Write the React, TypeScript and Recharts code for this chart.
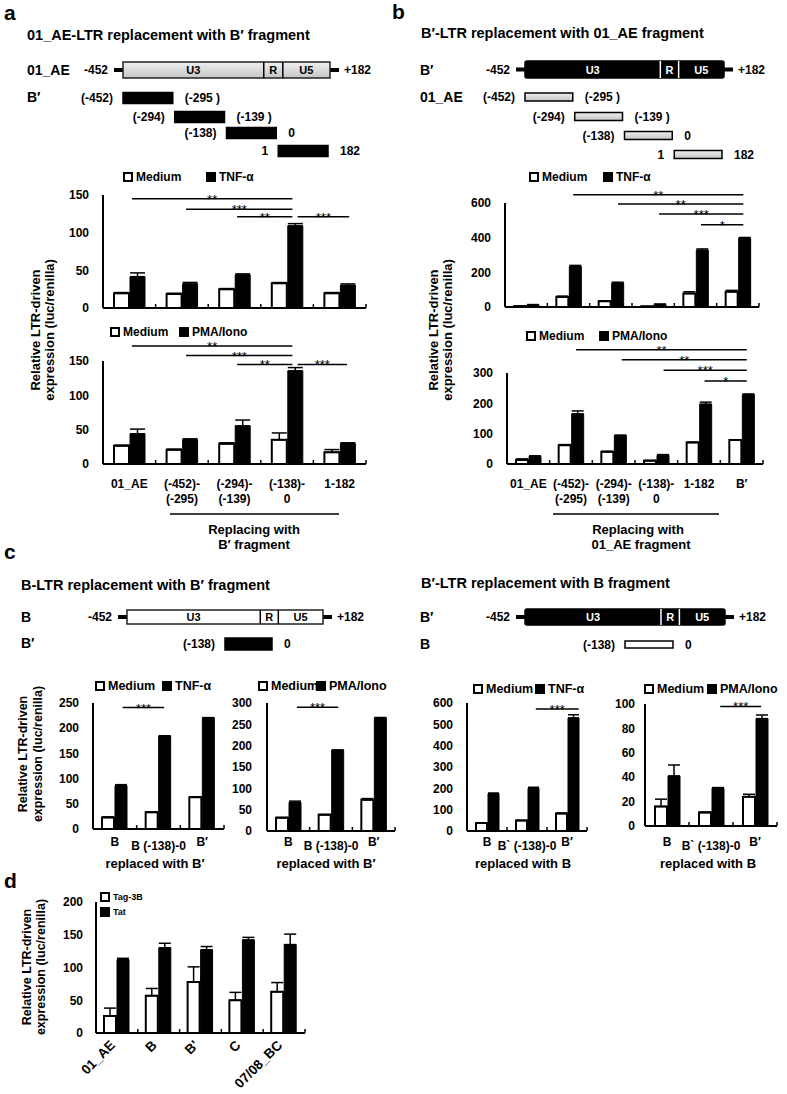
import React from "react";
import { BarChart, Bar, XAxis, YAxis, ErrorBar, ReferenceLine } from "recharts";

const FONT = '"Liberation Sans", Arial, Helvetica, sans-serif';

// ---------- panel a ----------
const aGroups = ["01_AE", "(-452)-(-295)", "(-294)-(-139)", "(-138)-0", "1-182"];
const aTickLines = [["01_AE"], ["(-452)-", "(-295)"], ["(-294)-", "(-139)"], ["(-138)-", "0"], ["1-182"]];
const aTnfMedium = [19.5, 18.6, 24.8, 32.8, 19.5];
const aTnfMediumErr = [1, 1, 1, 1, 1];
const aTnf = [41.6, 31.9, 43.8, 109, 30];
const aTnfErr = [5, 2, 1.5, 3, 2];
const aPmaMedium = [26.5, 20.7, 29.4, 35.2, 17];
const aPmaMediumErr = [1, 1, 1.5, 10, 4];
const aPma = [44, 35.2, 55.5, 135.6, 29.4];
const aPmaErr = [6.8, 1.5, 8.5, 4.8, 1.5];
const aFragments = [["(-452)", "(-295 )"], ["(-294)", "(-139 )"], ["(-138)", "0"], ["1", "182"]];

// ---------- panel b ----------
const bGroups = ["01_AE", "(-452)-(-295)", "(-294)-(-139)", "(-138)-0", "1-182", "B′"];
const bTickLines = [["01_AE"], ["(-452)-", "(-295)"], ["(-294)-", "(-139)"], ["(-138)-", "0"], ["1-182"], ["B′"]];
const bTnfMedium = [5, 57, 33, 3, 78, 88];
const bTnfMediumErr = [1, 6, 2, 1, 10, 8];
const bTnf = [12, 232, 137, 15, 327, 395];
const bTnfErr = [2, 8, 6, 2, 8, 6];
const bPmaMedium = [13, 62, 40, 11, 71, 79];
const bPmaMediumErr = [4, 2, 2, 1, 1, 1];
const bPma = [25, 165, 94, 29, 197, 228];
const bPmaErr = [2, 10, 1, 2, 7, 3];
const bFragments = [["(-452)", "(-295 )"], ["(-294)", "(-139 )"], ["(-138)", "0"], ["1", "182"]];

// ---------- panel c ----------
const cGroups = ["B", "B (-138)-0", "B′"];
const cGroupsR = ["B", "B` (-138)-0", "B′"];
const c1Medium = [23, 33, 63];
const c1MediumErr = [1, 1, 1];
const c1Tnf = [86, 184, 220];
const c1TnfErr = [2, 1, 1];
const c2Medium = [31, 38, 73];
const c2MediumErr = [1, 1, 3];
const c2Pma = [67, 189, 265];
const c2PmaErr = [3, 1, 1];
const c3Medium = [37, 49, 82];
const c3MediumErr = [1, 1, 2];
const c3Tnf = [175, 200, 530];
const c3TnfErr = [3, 5, 15];
const c4Medium = [16, 11, 24];
const c4MediumErr = [6, 0.5, 2];
const c4Pma = [41, 31, 88];
const c4PmaErr = [9, 0.5, 3];

// ---------- panel d ----------
const dGroups = ["01_AE", "B", "B'", "C", "07/08_BC"];
const dTag = [26, 57, 78, 50, 63];
const dTagErr = [12, 11, 23, 12, 14];
const dTat = [112, 130, 127, 142, 135];
const dTatErr = [2, 7, 5, 4, 16];

const ltrParts = [
  { name: "U3", end: 0.68 },
  { name: "R", end: 0.772 },
  { name: "U5", end: 1 },
];

// significance brackets: from/to in group units (0 = left edge of first group)
type Sig = { from: number; to: number; y: number; text: string };
type Plot = { x0: number; x1: number; yT: number; yB: number };

const YW = 50;
const MT = 42;
const MR = 4;

function GroupTick(props: any) {
  const { x, y, payload, step, groups, lines, lowered, rotate, labelDy } = props;
  const i = groups.indexOf(payload.value);
  const ls: string[] = lines ? lines[i] || [] : [];
  const drop = lowered && lowered.includes(i) ? 4 : 0;
  return (
    <g>
      <line x1={x + step / 2} x2={x + step / 2} y1={y} y2={y - 4} stroke="#000" strokeWidth={1.5} />
      {ls.length > 0 && rotate && (
        <text
          transform={`translate(${x - 1},${y + 13}) rotate(-45)`}
          textAnchor="end"
          fontSize={13.5}
          fontWeight={700}
          fill="#000"
        >
          {ls[0]}
        </text>
      )}
      {ls.length > 0 && !rotate && (
        <text x={x} y={y + labelDy + drop} textAnchor="middle" fontSize={12} fontWeight={700} fill="#000">
          {ls.map((l, k) => (
            <tspan key={k} x={x} dy={k === 0 ? 0 : 15}>
              {l}
            </tspan>
          ))}
        </text>
      )}
    </g>
  );
}

function SigShape(props: any) {
  const { x1, x2, y1, fd, td, text } = props;
  const a = x1 + fd;
  const b = x2 + td;
  return (
    <g>
      <line x1={a} x2={b} y1={y1} y2={y1} stroke="#000" strokeWidth={1.5} />
      <text x={(a + b) / 2} y={y1 + 5} textAnchor="middle" fontSize={13} fill="#000">
        {text}
      </text>
    </g>
  );
}

interface ChartProps {
  plot: Plot;
  groups: string[];
  medium: number[];
  mediumErr: number[];
  treat: number[];
  treatErr: number[];
  yMax: number;
  yTicks: number[];
  sigs?: Sig[];
  barSize: number;
  tickLines?: string[][];
  lowered?: number[];
  rotate?: boolean;
  labelDy?: number;
  xHeight: number;
  yMargin: number;
}

function GroupChart(p: ChartProps) {
  const { plot } = p;
  const n = p.groups.length;
  const step = (plot.x1 - plot.x0) / n;
  const rows = p.groups.map((g, i) => ({
    group: g,
    medium: p.medium[i],
    mediumErr: [0, p.mediumErr[i]],
    treat: p.treat[i],
    treatErr: [0, p.treatErr[i]],
  }));
  const width = plot.x1 - plot.x0 + YW + MR;
  const height = MT + (plot.yB - plot.yT) + p.xHeight;
  return (
    <div style={{ position: "absolute", left: plot.x0 - YW, top: plot.yT - MT }}>
      <BarChart
        width={width}
        height={height}
        data={rows}
        margin={{ top: MT, right: MR, bottom: 0, left: 0 }}
        barGap={1}
        barSize={p.barSize}
      >
        <XAxis
          dataKey="group"
          interval={0}
          height={p.xHeight}
          axisLine={{ stroke: "#000", strokeWidth: 2 }}
          tickLine={false}
          tickSize={0}
          tickMargin={0}
          tick={
            <GroupTick
              step={step}
              groups={p.groups}
              lines={p.tickLines}
              lowered={p.lowered}
              rotate={p.rotate}
              labelDy={p.labelDy || 20}
            />
          }
        />
        <YAxis
          domain={[0, p.yMax]}
          ticks={p.yTicks}
          interval={0}
          width={YW}
          axisLine={{ stroke: "#000", strokeWidth: 2 }}
          tickLine={false}
          tickSize={0}
          tickMargin={p.yMargin}
          tick={{ fontSize: 12, fontWeight: 700, fill: "#000" }}
        />
        <Bar dataKey="medium" fill="#fff" stroke="#000" strokeWidth={2} isAnimationActive={false}>
          <ErrorBar
            dataKey="mediumErr"
            width={p.barSize / 2}
            stroke="#000"
            strokeWidth={1.5}
            isAnimationActive={false}
          />
        </Bar>
        <Bar dataKey="treat" fill="#000" stroke="#000" strokeWidth={1} isAnimationActive={false}>
          <ErrorBar
            dataKey="treatErr"
            width={p.barSize / 2}
            stroke="#000"
            strokeWidth={1.5}
            isAnimationActive={false}
          />
        </Bar>
        {(p.sigs || []).map((s, i) => {
          const fi = Math.min(Math.floor(s.from), n - 1);
          const ti = Math.min(Math.floor(s.to), n - 1);
          const fd = (s.from - fi - 0.5) * step;
          const td = (s.to - ti - 0.5) * step;
          return (
            <ReferenceLine
              key={i}
              segment={[
                { x: p.groups[fi], y: s.y },
                { x: p.groups[ti], y: s.y },
              ]}
              ifOverflow="visible"
              shape={(lp: any) => <SigShape {...lp} fd={fd} td={td} text={s.text} />}
            />
          );
        })}
      </BarChart>
    </div>
  );
}

function LegendRow({ y, items, size = 12 }: { y: number; size?: number; items: { x: number; label: string; filled: boolean }[] }) {
  return (
    <>
      {items.map((it, i) => (
        <div key={i} style={{ position: "absolute", left: it.x, top: y - 8, height: 16, display: "flex", alignItems: "center", whiteSpace: "nowrap" }}>
          <span
            style={{
              display: "inline-block",
              width: 6,
              height: 6,
              border: "2px solid #000",
              background: it.filled ? "#000" : "#fff",
              marginRight: 3,
            }}
          />
          <span style={{ fontSize: size, fontWeight: 700 }}>{it.label}</span>
        </div>
      ))}
    </>
  );
}

function YLabel({ cx, cy, size = 13, lh = 14 }: { cx: number; cy: number; size?: number; lh?: number }) {
  return (
    <div
      style={{
        position: "absolute",
        left: cx,
        top: cy,
        transform: "translate(-50%, -50%) rotate(-90deg)",
        fontSize: size,
        fontWeight: 700,
        lineHeight: `${lh}px`,
        textAlign: "center",
        whiteSpace: "nowrap",
      }}
    >
      Relative LTR-driven
      <br />
      expression (luc/renilla)
    </div>
  );
}

function Txt({ x, y, s, size = 12, anchor = "start", fill = "#000" }: any) {
  return (
    <text x={x} y={y} fontSize={size} fontWeight={700} textAnchor={anchor} dominantBaseline="central" fill={fill}>
      {s}
    </text>
  );
}

function Ltr({ x0, x1, y, h, kind, name, nameX }: any) {
  const w = x1 - x0;
  const fill = kind === "black" ? "#000" : kind === "white" ? "#fff" : "url(#greyGrad)";
  const tc = kind === "black" ? "#fff" : "#000";
  const cy = y + h / 2;
  let prev = 0;
  return (
    <g>
      <Txt x={nameX} y={cy} s={name} size={14} />
      <Txt x={x0 - 15} y={cy} s="-452" anchor="end" />
      <rect x={x0 - 9} y={cy - 2} width={9} height={4} fill="#000" />
      <rect x={x1} y={cy - 2} width={9} height={4} fill="#000" />
      <rect x={x0} y={y} width={w} height={h} fill={fill} stroke={kind === "black" ? "#000" : "#222"} strokeWidth={1.5} rx={kind === "black" ? 2 : 0} />
      {ltrParts.map((pt, i) => {
        const a = prev;
        prev = pt.end;
        const mid = x0 + (w * (a + pt.end)) / 2;
        return (
          <g key={i}>
            {i > 0 && <line x1={x0 + w * a} x2={x0 + w * a} y1={y} y2={y + h} stroke={kind === "black" ? "#fff" : "#000"} strokeWidth={1.5} />}
            <Txt x={mid} y={cy} s={pt.name} size={11} anchor="middle" fill={tc} />
          </g>
        );
      })}
      <Txt x={x1 + 14} y={cy} s="+182" />
    </g>
  );
}

function Fragment({ x0, x1, q, cy, h, kind, left, right }: any) {
  const w = (x1 - x0) / 4;
  const bx = x0 + q * w;
  const fill = kind === "black" ? "#000" : kind === "white" ? "#fff" : "url(#greyGrad)";
  return (
    <g>
      <Txt x={bx - 10} y={cy} s={left} anchor="end" />
      <rect x={bx} y={cy - h / 2} width={w - 2} height={h} fill={fill} stroke="#000" strokeWidth={1.5} />
      <Txt x={bx + w + 10} y={cy} s={right} />
    </g>
  );
}

function Schematics() {
  const aRows = [98, 117, 133, 151];
  const bRows = [97, 116.5, 135.5, 154.5];
  return (
    <svg width={787} height={1094} style={{ position: "absolute", left: 0, top: 0 }}>
      <defs>
        <linearGradient id="greyGrad" x1="0" y1="0" x2="0" y2="1">
          <stop offset="0%" stopColor="#f0f0f0" />
          <stop offset="100%" stopColor="#c4c4c4" />
        </linearGradient>
      </defs>
      <Txt x={4} y={12} s="a" size={21} />
      <Txt x={392} y={11} s="b" size={21} />
      <Txt x={4} y={551} s="c" size={21} />
      <Txt x={4} y={880} s="d" size={21} />

      <Txt x={27} y={35} s="01_AE-LTR replacement with B′ fragment" size={14.5} />
      <Txt x={421} y={33} s="B′-LTR replacement with 01_AE fragment" size={14.5} />
      <Txt x={21} y={585} s="B-LTR replacement with B′ fragment" size={14.5} />
      <Txt x={421} y={583} s="B′-LTR replacement with B fragment" size={14.5} />

      {/* a */}
      <Ltr x0={123} x1={330} y={62} h={16} kind="grey" name="01_AE" nameX={27} />
      <Txt x={27} y={97} s="B′" size={14} />
      {aFragments.map((f, i) => (
        <Fragment key={i} x0={123} x1={330} q={i} cy={aRows[i]} h={11} kind="black" left={f[0]} right={f[1]} />
      ))}

      {/* b */}
      <Ltr x0={525} x1={724} y={61} h={17} kind="black" name="B′" nameX={420} />
      <Txt x={420} y={97} s="01_AE" size={14} />
      {bFragments.map((f, i) => (
        <Fragment key={i} x0={525} x1={724} q={i} cy={bRows[i]} h={8} kind="grey" left={f[0]} right={f[1]} />
      ))}

      {/* c */}
      <Ltr x0={127} x1={323} y={610} h={14} kind="white" name="B" nameX={21} />
      <Txt x={21} y={643} s="B′" size={14} />
      <Fragment x0={127} x1={323} q={2} cy={644} h={12} kind="black" left="(-138)" right="0" />
      <Ltr x0={525} x1={725} y={609} h={16} kind="black" name="B′" nameX={420} />
      <Txt x={420} y={644} s="B" size={14} />
      <Fragment x0={525} x1={725} q={2} cy={644.5} h={7} kind="white" left="(-138)" right="0" />

      {/* replacing annotations */}
      <line x1={170} x2={339} y1={514} y2={514} stroke="#000" strokeWidth={1.5} />
      <Txt x={254} y={529} s="Replacing with" size={13} anchor="middle" />
      <Txt x={254} y={544} s="B′ fragment" size={13} anchor="middle" />
      <line x1={553} x2={719} y1={514} y2={514} stroke="#000" strokeWidth={1.5} />
      <Txt x={638} y={529} s="Replacing with" size={13} anchor="middle" />
      <Txt x={641} y={544} s="01_AE fragment" size={13} anchor="middle" />

      <Txt x={155} y={863} s="replaced with B′" size={13} anchor="middle" />
      <Txt x={326} y={863} s="replaced with B′" size={13} anchor="middle" />
      <Txt x={523} y={863} s="replaced with B" size={13} anchor="middle" />
      <Txt x={708} y={863} s="replaced with B" size={13} anchor="middle" />
    </svg>
  );
}

export default function App() {
  const cLines = cGroups.map((g) => [g]);
  const cLinesR = cGroupsR.map((g) => [g]);
  return (
    <div
      style={{
        position: "absolute",
        left: 0,
        top: 0,
        width: 787,
        height: 1094,
        background: "#fff",
        fontFamily: FONT,
        color: "#000",
        overflow: "hidden",
      }}
    >
      <Schematics />

      {/* panel a */}
      <GroupChart
        plot={{ x0: 103, x1: 366, yT: 195, yB: 308 }}
        groups={aGroups}
        medium={aTnfMedium}
        mediumErr={aTnfMediumErr}
        treat={aTnf}
        treatErr={aTnfErr}
        yMax={150}
        yTicks={[0, 50, 100, 150]}
        barSize={15}
        xHeight={6}
        yMargin={14}
        sigs={[
          { from: 0.55, to: 3.6, y: 145, text: "**" },
          { from: 1.58, to: 3.6, y: 131, text: "***" },
          { from: 2.55, to: 3.6, y: 121, text: "**" },
          { from: 3.7, to: 4.68, y: 121, text: "***" },
        ]}
      />
      <GroupChart
        plot={{ x0: 103, x1: 366, yT: 361, yB: 464 }}
        groups={aGroups}
        medium={aPmaMedium}
        mediumErr={aPmaMediumErr}
        treat={aPma}
        treatErr={aPmaErr}
        yMax={150}
        yTicks={[0, 50, 100, 150]}
        barSize={15}
        xHeight={45}
        yMargin={14}
        tickLines={aTickLines}
        labelDy={24}
        sigs={[
          { from: 0.55, to: 3.6, y: 172, text: "**" },
          { from: 1.58, to: 3.6, y: 158, text: "***" },
          { from: 2.55, to: 3.6, y: 145, text: "**" },
          { from: 3.7, to: 4.64, y: 145, text: "***" },
        ]}
      />
      <LegendRow y={177} items={[{ x: 123, label: "Medium", filled: false }, { x: 206, label: "TNF-α", filled: true }]} />
      <LegendRow y={332} items={[{ x: 110, label: "Medium", filled: false }, { x: 179, label: "PMA/Iono", filled: true }]} />
      <YLabel cx={43} cy={330} />

      {/* panel b */}
      <GroupChart
        plot={{ x0: 505, x1: 759, yT: 203, yB: 307 }}
        groups={bGroups}
        medium={bTnfMedium}
        mediumErr={bTnfMediumErr}
        treat={bTnf}
        treatErr={bTnfErr}
        yMax={600}
        yTicks={[0, 200, 400, 600]}
        barSize={12}
        xHeight={6}
        yMargin={14}
        sigs={[
          { from: 1.61, to: 5.63, y: 648, text: "**" },
          { from: 2.67, to: 5.63, y: 594, text: "**" },
          { from: 3.64, to: 5.63, y: 536, text: "***" },
          { from: 4.63, to: 5.63, y: 474, text: "*" },
        ]}
      />
      <GroupChart
        plot={{ x0: 507, x1: 763, yT: 373, yB: 464 }}
        groups={bGroups}
        medium={bPmaMedium}
        mediumErr={bPmaMediumErr}
        treat={bPma}
        treatErr={bPmaErr}
        yMax={300}
        yTicks={[0, 100, 200, 300]}
        barSize={12}
        xHeight={45}
        yMargin={14}
        tickLines={bTickLines}
        labelDy={24}
        sigs={[
          { from: 1.62, to: 5.62, y: 377, text: "**" },
          { from: 2.69, to: 5.62, y: 344, text: "**" },
          { from: 3.67, to: 5.62, y: 309, text: "***" },
          { from: 4.63, to: 5.62, y: 274, text: "*" },
        ]}
      />
      <LegendRow y={177} items={[{ x: 529, label: "Medium", filled: false }, { x: 603, label: "TNF-α", filled: true }]} />
      <LegendRow y={336} items={[{ x: 526, label: "Medium", filled: false }, { x: 599, label: "PMA/Iono", filled: true }]} />
      <YLabel cx={441} cy={330} />

      {/* panel c */}
      <GroupChart
        plot={{ x0: 93, x1: 224, yT: 703, yB: 829 }}
        groups={cGroups}
        medium={c1Medium}
        mediumErr={c1MediumErr}
        treat={c1Tnf}
        treatErr={c1TnfErr}
        yMax={250}
        yTicks={[0, 50, 100, 150, 200, 250]}
        barSize={12}
        xHeight={28}
        yMargin={14}
        tickLines={cLines}
        lowered={[1]}
        labelDy={17}
        sigs={[{ from: 0.68, to: 1.63, y: 241, text: "***" }]}
      />
      <GroupChart
        plot={{ x0: 267, x1: 395, yT: 703, yB: 831 }}
        groups={cGroups}
        medium={c2Medium}
        mediumErr={c2MediumErr}
        treat={c2Pma}
        treatErr={c2PmaErr}
        yMax={300}
        yTicks={[0, 50, 100, 150, 200, 250, 300]}
        barSize={12}
        xHeight={28}
        yMargin={15}
        tickLines={cLines}
        lowered={[1]}
        labelDy={15}
        sigs={[{ from: 0.7, to: 1.67, y: 290, text: "***" }]}
      />
      <GroupChart
        plot={{ x0: 467, x1: 587, yT: 703, yB: 831 }}
        groups={cGroupsR}
        medium={c3Medium}
        mediumErr={c3MediumErr}
        treat={c3Tnf}
        treatErr={c3TnfErr}
        yMax={600}
        yTicks={[0, 100, 200, 300, 400, 500, 600]}
        barSize={11}
        xHeight={28}
        yMargin={14}
        tickLines={cLinesR}
        lowered={[1]}
        labelDy={15}
        sigs={[{ from: 1.72, to: 2.79, y: 572, text: "***" }]}
      />
      <GroupChart
        plot={{ x0: 645, x1: 777, yT: 704, yB: 826 }}
        groups={cGroupsR}
        medium={c4Medium}
        mediumErr={c4MediumErr}
        treat={c4Pma}
        treatErr={c4PmaErr}
        yMax={100}
        yTicks={[0, 20, 40, 60, 80, 100]}
        barSize={12}
        xHeight={28}
        yMargin={10}
        tickLines={cLinesR}
        lowered={[1]}
        labelDy={20}
        sigs={[{ from: 1.71, to: 2.64, y: 98, text: "***" }]}
      />
      <LegendRow y={686} size={12.5} items={[{ x: 95, label: "Medium", filled: false }, { x: 162, label: "TNF-α", filled: true }]} />
      <LegendRow y={686} size={12.5} items={[{ x: 258, label: "Medium", filled: false }, { x: 316, label: "PMA/Iono", filled: true }]} />
      <LegendRow y={689} size={12.5} items={[{ x: 473, label: "Medium", filled: false }, { x: 535, label: "TNF-α", filled: true }]} />
      <LegendRow y={689} size={12.5} items={[{ x: 644, label: "Medium", filled: false }, { x: 707, label: "PMA/Iono", filled: true }]} />
      <YLabel cx={31} cy={754} size={12.5} lh={15} />

      {/* panel d */}
      <GroupChart
        plot={{ x0: 96, x1: 305, yT: 902, yB: 1033 }}
        groups={dGroups}
        medium={dTag}
        mediumErr={dTagErr}
        treat={dTat}
        treatErr={dTatErr}
        yMax={200}
        yTicks={[0, 50, 100, 150, 200]}
        barSize={12}
        xHeight={60}
        yMargin={13}
        tickLines={dGroups.map((g) => [g])}
        rotate
      />
      <LegendRow y={897} size={9} items={[{ x: 100, label: "Tag-3B", filled: false }]} />
      <LegendRow y={912} size={9} items={[{ x: 100, label: "Tat", filled: true }]} />
      <YLabel cx={34} cy={967} size={12.5} lh={14} />
    </div>
  );
}
